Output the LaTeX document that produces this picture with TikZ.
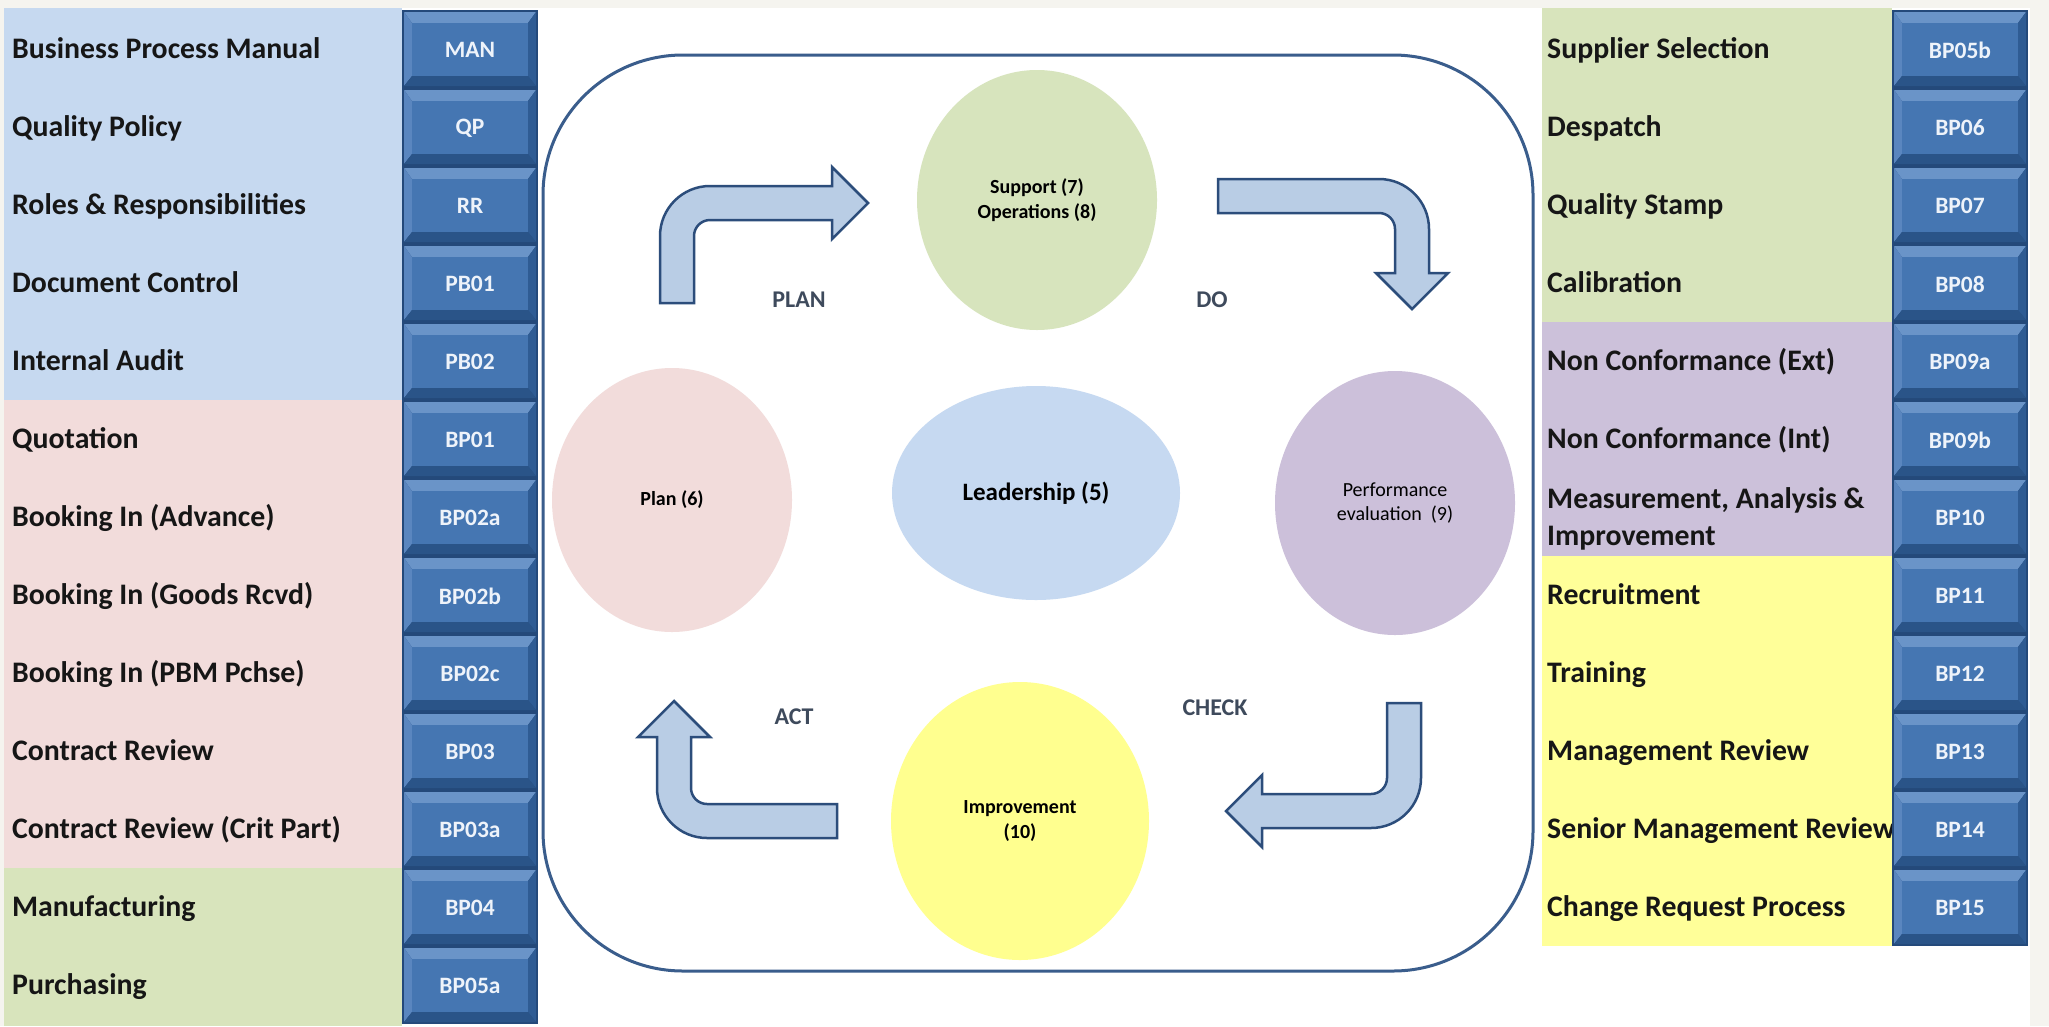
\documentclass[tikz,border=0pt]{standalone}
\usepackage{fontspec}
\setmainfont{Carlito}
\usetikzlibrary{shapes.geometric}
\definecolor{pagebg}{HTML}{F5F4EF}
\definecolor{bandblue}{HTML}{C6D9F0}
\definecolor{bandpink}{HTML}{F2DCDB}
\definecolor{bandgreen}{HTML}{D8E4BC}
\definecolor{bandpurple}{HTML}{CCC1DA}
\definecolor{bandyellow}{HTML}{FFFF99}
\definecolor{labeltext}{HTML}{161616}
\definecolor{btnedge}{HTML}{24497A}
\definecolor{btnlite}{HTML}{6A94C8}
\definecolor{btnleftc}{HTML}{5A86BF}
\definecolor{btnshade}{HTML}{2F5C94}
\definecolor{btnlow}{HTML}{2A5488}
\definecolor{btnface}{HTML}{4576B2}
\definecolor{btntextc}{HTML}{EEF3FA}
\definecolor{arrowfill}{HTML}{B9CDE5}
\definecolor{arrowline}{HTML}{2C4D7B}
\definecolor{frameline}{HTML}{3A5D8C}
\definecolor{pdcatext}{HTML}{3E4A5C}
\definecolor{elgreen}{HTML}{D7E4BD}
\definecolor{elpink}{HTML}{F2DCDB}
\definecolor{elblue}{HTML}{C6D9F1}
\definecolor{elpurple}{HTML}{CCC0DA}
\definecolor{elyellow}{HTML}{FFFF8F}
\tikzset{
  rowlabel/.style={anchor=base west, inner sep=0pt, font=\fontsize{29.8}{37}\selectfont\bfseries, text=labeltext, align=left},
  btntext/.style={font=\fontsize{23.5}{26}\selectfont\bfseries, text=btntextc, inner sep=0pt},
  blob/.style={ellipse, inner sep=0pt, align=center, text=black},
  pdca/.style={font=\fontsize{24}{28}\selectfont\bfseries, text=pdcatext, inner sep=0pt},
  bent/.style={fill=arrowfill, draw=arrowline, line width=2.5pt, line join=miter},
  frame/.style={draw=frameline, line width=3pt, rounded corners=140pt},
}
\newcommand\qbtn[4]{%
  \begin{scope}[shift={(#2,#3)}]
    \fill[btnedge] (0,0) rectangle (136,78);
    \fill[btnlite] (2,2) -- (134,2) -- (126,13) -- (10,13) -- cycle;
    \fill[btnleftc] (2,2) -- (10,13) -- (10,66) -- (2,76) -- cycle;
    \fill[btnshade] (134,2) -- (126,13) -- (126,66) -- (134,76) -- cycle;
    \fill[btnlow] (2,76) -- (10,66) -- (126,66) -- (134,76) -- cycle;
    \fill[btnface] (10,13) rectangle (126,66);
    \node[btntext] (#1) at (68,40) {#4};
  \end{scope}}
\begin{document}
\begin{tikzpicture}[x=1pt,y=-1pt]
\useasboundingbox (0,0) rectangle (2049,1026);
\fill[pagebg] (0,0) rectangle (2049,1026);
\fill[white] (4,8) rectangle (2030,1026);
% left bands
\fill[bandblue] (4,8) rectangle (402,400);
\fill[bandpink] (4,400) rectangle (402,868);
\fill[bandgreen] (4,868) rectangle (402,1026);
% right bands
\fill[bandgreen] (1542,8) rectangle (1892,322);
\fill[bandpurple] (1542,322) rectangle (1892,556);
\fill[bandyellow] (1542,556) rectangle (1892,946);
% left rows
\foreach \t/\c [count=\i from 0] in {Business Process Manual/MAN, Quality Policy/QP, Roles \& Responsibilities/RR, Document Control/PB01, Internal Audit/PB02, Quotation/BP01, Booking In (Advance)/BP02a, Booking In (Goods Rcvd)/BP02b, Booking In (PBM Pchse)/BP02c, Contract Review/BP03, Contract Review (Crit Part)/BP03a, Manufacturing/BP04, Purchasing/BP05a}
{
  \node[rowlabel] (L\i) at (12,58+78*\i) {\t};
  \qbtn{LB\i}{402}{10+78*\i}{\c}
}
% right rows
\foreach \i/\t/\c in {0/Supplier Selection/BP05b, 1/Despatch/BP06, 2/Quality Stamp/BP07, 3/Calibration/BP08, 4/Non Conformance (Ext)/BP09a, 5/Non Conformance (Int)/BP09b, 7/Recruitment/BP11, 8/Training/BP12, 9/Management Review/BP13, 10/Senior Management Review/BP14, 11/Change Request Process/BP15}
{
  \node[rowlabel] (R\i) at (1547,58+78*\i) {\t};
  \qbtn{RB\i}{1892}{10+78*\i}{\c}
}
\node[rowlabel, anchor=west] (R6) at (1547,519) {Measurement, Analysis \&\\Improvement};
\qbtn{RB6}{1892}{478}{BP10}
% central frame
\draw[frame] (543,55) rectangle (1533,971);
% ellipses
\node[blob, fill=elgreen, minimum width=240pt, minimum height=260pt, font=\fontsize{20}{25}\selectfont\bfseries] (sup) at (1037,200) {Support (7)\\Operations (8)};
\node[blob, fill=elpink, minimum width=240pt, minimum height=264pt, font=\fontsize{20}{25}\selectfont\bfseries] (plan) at (672,500) {Plan (6)};
\node[blob, fill=elblue, minimum width=288pt, minimum height=214pt, font=\fontsize{25}{30}\selectfont\bfseries] (lead) at (1036,493) {Leadership (5)};
\node[blob, fill=elpurple, minimum width=240pt, minimum height=264pt, font=\fontsize{20}{24}\selectfont] (perf) at (1395,503) {Performance\\evaluation\ \ (9)};
\node[blob, fill=elyellow, minimum width=258pt, minimum height=278pt, font=\fontsize{20}{25}\selectfont\bfseries] (imp) at (1020,821) {Improvement\\(10)};
% PDCA labels
\node[pdca] (tplan) at (799,300) {PLAN};
\node[pdca] (tdo) at (1212,300) {DO};
\node[pdca] (tact) at (794,717) {ACT};
\node[pdca] (tcheck) at (1215,708) {CHECK};
% bent arrows
\draw[bent] (660,303) -- (660,236) .. controls (660,208.4) and (682.4,186) .. (710,186) -- (832,186) -- (832,167) -- (868,203) -- (832,239) -- (832,220) -- (710,220) .. controls (701.2,220) and (694,227.2) .. (694,236) -- (694,303) -- cycle;
\draw[bent] (1218,179) -- (1379,179) .. controls (1406.6,179) and (1429,201.4) .. (1429,229) -- (1429,273) -- (1448,273) -- (1412,309) -- (1376,273) -- (1395,273) -- (1395,229) .. controls (1395,220.2) and (1387.8,213) .. (1379,213) -- (1218,213) -- cycle;
\draw[bent] (1387,703) -- (1421,703) -- (1421,778) .. controls (1421,805.6) and (1398.6,828) .. (1371,828) -- (1262,828) -- (1262,847) -- (1226,811) -- (1262,775) -- (1262,794) -- (1371,794) .. controls (1379.8,794) and (1387,786.8) .. (1387,778) -- cycle;
\draw[bent] (837,838) -- (707,838) .. controls (679.4,838) and (657,815.6) .. (657,788) -- (657,737) -- (638,737) -- (674,701) -- (710,737) -- (691,737) -- (691,788) .. controls (691,796.8) and (698.2,804) .. (707,804) -- (837,804) -- cycle;
\end{tikzpicture}
\end{document}
